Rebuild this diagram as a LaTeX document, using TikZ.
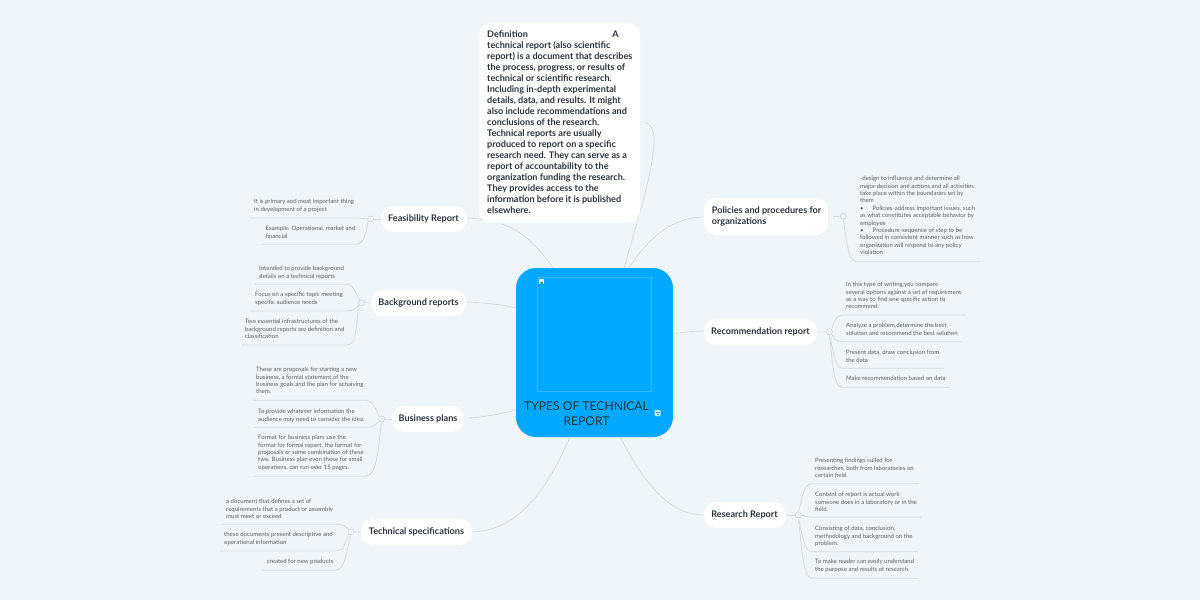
\documentclass[tikz,border=0pt]{standalone}
\usepackage{fontspec}
\setmainfont{Lato}
\definecolor{bgc}{HTML}{F0F5F9}
\definecolor{rootc}{HTML}{00A9FF}
\definecolor{framec}{HTML}{33BAFF}
\definecolor{linec}{HTML}{D6DDE1}
\definecolor{darkt}{HTML}{2C343C}
\definecolor{smallt}{HTML}{585F65}
\tikzset{
  mainbox/.style={fill=white,rounded corners=12pt,inner sep=0pt,text=darkt,font=\fontsize{9.1}{11}\selectfont\bfseries},
  maintext/.style={inner sep=0pt,text=darkt,font=\fontsize{9.1}{11}\selectfont\bfseries,align=left},
  leaf/.style={inner sep=0pt,anchor=north west,align=left,text=smallt,font=\fontsize{6.03}{7.4}\selectfont},
  conn/.style={draw=linec,line width=0.7pt},
  under/.style={draw=linec,line width=0.8pt},
  knob/.style={circle,draw=linec,fill=bgc,line width=0.8pt,minimum size=6pt,inner sep=0pt},
}
\newcommand{\mainnode}[7]{% name x1 y1 x2 y2 text
  \node[mainbox,minimum width=#4 pt-#2 pt,minimum height=#5 pt-#3 pt] (#1) at ({(#2+#4)/2},{(#3+#5)/2}) {#6};}
\begin{document}
\begin{tikzpicture}[x=1pt,y=-1pt]
\useasboundingbox[fill=bgc] (0,0) rectangle (1200,600);
% coordinates
\coordinate (defE) at (645,122);
\coordinate (defS) at (624,268);
\coordinate (rF) at (553,268);
\coordinate (rB) at (516,308);
\coordinate (rP) at (516,410);
\coordinate (rT) at (570,437);
\coordinate (rO) at (629,268);
\coordinate (rR) at (673,334);
\coordinate (rS) at (620,437);
% root-level connectors
\draw[conn] (defS) .. controls (636,225) and (654,170) .. (654,140) .. controls (654,128) and (650,124) .. (defE);
\draw[conn] (rF) .. controls (530,235) and (510,220) .. (467,218);
\draw[conn] (rB) .. controls (500,304) and (485,303) .. (467,302);
\draw[conn] (rP) .. controls (500,414) and (485,417) .. (469,418);
\draw[conn] (rT) .. controls (545,495) and (515,531) .. (472,532);
\draw[conn] (rO) .. controls (650,235) and (675,217) .. (704,217);
\draw[conn] (rR) .. controls (685,332) and (695,331) .. (704,331);
\draw[conn] (rS) .. controls (645,485) and (670,515) .. (704,515);
% definition box
\node[fill=white,rounded corners=12pt,minimum width=161pt,minimum height=200pt,inner sep=0pt] (defbox) at (559.5,123) {};
\node[maintext,anchor=north west] (deftext) at (487,30.5) {Definition\hspace{84.5pt}A\\technical report (also scientific\\report) is a document that describes\\the process, progress, or results of\\technical or scientific research.\\Including in-depth experimental\\details, data, and results. It might\\also include recommendations and\\conclusions of the research.\\Technical reports are usually\\produced to report on a specific\\research need. They can serve as a\\report of accountability to the\\organization funding the research.\\They provides access to the\\information before it is published\\elsewhere.};
% root
\node[fill=rootc,rounded corners=20pt,minimum width=157pt,minimum height=169pt,inner sep=0pt] (root) at (594.5,352.5) {};
\node[draw=framec,line width=0.5pt,minimum width=114pt,minimum height=114pt,inner sep=0pt] (frame) at (594.5,334) {};
\node[fill=white,minimum size=5pt,inner sep=0pt] (brk) at (541.5,281) {};
\fill[green!55!black] (539.5,283.5) -- (541.5,281.5) -- (543.5,283.5) -- cycle;
\node[fill=white,opacity=0.8,rounded corners=1pt,minimum width=6pt,minimum height=6pt,inner sep=0pt] (icon) at (657.5,413) {};
\draw[rootc,line width=0.6pt] (655.5,412.5) -- (659.5,412.5) (656.5,414.5) -- (658.5,414.5);
\node[inner sep=0pt,align=center,text=darkt,font=\fontsize{12.1}{15}\selectfont] (roottext) at (586.5,414) {TYPES OF TECHNICAL\\REPORT};
% main nodes
\mainnode{nF}{381}{206}{467}{232}{}{}
\node[maintext] (tF) at (423.5,219) {Feasibility Report};
\mainnode{nB}{371}{290}{466}{316}{}{}
\node[maintext] (tB) at (418.5,303) {Background reports};
\mainnode{nP}{392}{406}{464}{432}{}{}
\node[maintext] (tP) at (428,419) {Business plans};
\mainnode{nT}{361}{519}{472}{545}{}{}
\node[maintext] (tT) at (416.5,532) {Technical specifications};
\mainnode{nO}{704}{198}{828}{235}{}{}
\node[maintext,anchor=west] (tO) at (711.7,216.3) {Policies and procedures for\\organizations};
\mainnode{nR}{704}{319}{817}{345}{}{}
\node[maintext] (tR) at (760.5,332) {Recommendation report};
\mainnode{nS}{704}{502}{786}{528}{}{}
\node[maintext] (tS) at (744.5,515) {Research Report};
% knobs
\node[knob] (kF) at (370.7,219) {};
\node[knob] (kB) at (361.7,302.7) {};
\node[knob] (kP) at (381.7,419) {};
\node[knob] (kT) at (351,531.7) {};
\node[knob] (kO) at (843.3,216.3) {};
\node[knob] (kR) at (829.3,331.7) {};
\node[knob] (kS) at (798.3,515) {};
\draw[conn] (nF.west) -- (kF);
\draw[conn] (nB.west) -- (kB);
\draw[conn] (nP.west) -- (kP);
\draw[conn] (nT.west) -- (kT);
\draw[conn] (nO.east) ++(5,0) -- (kO);
\draw[conn] (nR.east) -- (kR);
\draw[conn] (nS.east) -- (kS);
% underline ends
\foreach \n/\x/\y in {F1/250/218,F2/262/244.3,B1/255/284.3,B2/251/311,B3/241/345,P1/253/400.3,P2/254/427.3,P3/254/476.3,T1/222/524.3,T2/220/551,T3/262/570.3,O1/980/261.7,R1/966/315,R2/962/341.7,R3/944/368.3,R4/950/387.3,S1/919/483.7,S2/921/517.3,S3/918/551.7,S4/918/578.3}
  \coordinate (e\n) at (\x,\y);
% left side underlines
\draw[under] (eF1) -- (357,218) -- (kF.west);
\draw[under] (eF2) -- (356,244.3) .. controls (364,244.3) and (366,232) .. (kF.south west);
\draw[under] (eB1) -- (347,284.3) .. controls (353,284.3) and (356,293) .. (kB.north west);
\draw[under] (eB2) -- (347,311) .. controls (353,311) and (356,308) .. (kB.south west);
\draw[under] (eB3) -- (347,345) .. controls (358,345) and (356,318) .. (kB.south west);
\draw[under] (eP1) -- (367,400.3) .. controls (373,400.3) and (376,410) .. (kP.north west);
\draw[under] (eP2) -- (367,427.3) .. controls (373,427.3) and (376,424) .. (kP.south west);
\draw[under] (eP3) -- (365,476.3) .. controls (378,476.3) and (378,445) .. (kP.south);
\draw[under] (eT1) -- (337,524.3) .. controls (343,524.3) and (346,527) .. (kT.north west);
\draw[under] (eT2) -- (337,551) .. controls (343,551) and (346,542) .. (kT.south west);
\draw[under] (eT3) -- (336,570.3) .. controls (345,570.3) and (347,548) .. (kT.south);
% right side underlines
\draw[under] (eO1) -- (856,261.7) .. controls (848,261.7) and (846,235) .. (kO.south);
\draw[under] (eR1) -- (843,315) .. controls (836,315) and (833,323) .. (kR.north east);
\draw[under] (eR2) -- (843,341.7) .. controls (836,341.7) and (833,338) .. (kR.south east);
\draw[under] (eR3) -- (842,368.3) .. controls (834,368.3) and (833,345) .. (kR.south);
\draw[under] (eR4) -- (842,387.3) .. controls (832,387.3) and (832,350) .. (kR.south);
\draw[under] (eS1) -- (812,483.7) .. controls (803,483.7) and (802,500) .. (kS.north);
\draw[under] (eS2) -- (818,517.3) .. controls (810,517.3) and (806,517) .. (kS.east);
\draw[under] (eS3) -- (812,551.7) .. controls (803,551.7) and (802,530) .. (kS.south);
\draw[under] (eS4) -- (812,578.3) .. controls (802,578.3) and (801,535) .. (kS.south);
% leaf texts
\node[leaf] (lF1) at (254,199) {It is primary and most important thing\\in development of a project};
\node[leaf] (lF2) at (265.3,226) {Example: Operational, market and\\financial};
\node[leaf] (lB1) at (259,266) {Intended to provide background\\details on a technical reports};
\node[leaf] (lB2) at (255,292) {Focus on a specific topic meeting\\specific audience needs};
\node[leaf] (lB3) at (244.7,319) {Two essential infrastructures of the\\background reports are definition and\\classification};
\node[leaf] (lP1) at (256,367) {These are proposals for starting a new\\business, a formal statement of the\\business goals and the plan for achaiving\\them.};
\node[leaf] (lP2) at (258,409) {To provide whatever information the\\audience may need to consider the idea.};
\node[leaf] (lP3) at (258,435) {Format for business plan: use the\\format for formal report,  the format for\\proposals or some combination of these\\two. Business plan even those for small\\operations, can run over 15 pages.};
\node[leaf] (lT1) at (226,499) {a document that defines a set of\\requirements that a product or assembly\\must meet or exceed};
\node[leaf] (lT2) at (224,532) {these documents present descriptive and\\operational information};
\node[leaf] (lT3) at (266.7,559) {created for new products};
\node[leaf] (lO1) at (860,176) {-design to influence and determine all\\major decision and actions,and all activities\\take place within the boundaries set by\\them\\•\hspace{9pt}Policies-address important issues, such\\as what constitutes acceptable behavior by\\employee\\•\hspace{9pt}Procedure-sequence of step to be\\followed in consistent manner such as how\\organization will respond to any policy\\violation};
\node[leaf] (lR1) at (846,282) {In this type of writing,you compare\\several options against a set of requirement\\as a way to find one specific action to\\recommend};
\node[leaf] (lR2) at (846,323) {Analyze a problem,determine the best\\solution and recommend the best solution};
\node[leaf] (lR3) at (846,350) {Present data, draw conclusion from\\the data};
\node[leaf] (lR4) at (846,376) {Make recommendation based on data};
\node[leaf] (lS1) at (815,458) {Presenting findings culled for\\researches, both from laboratories on\\certain field.};
\node[leaf] (lS2) at (815,492) {Content of report is actual work\\someone does in a laboratory or in the\\field.};
\node[leaf] (lS3) at (815,526) {Consisting of data, conclusion,\\methodology and background on the\\problem.};
\node[leaf] (lS4) at (815,559) {To make reader can easily understand\\the purpose and results of research.};
\end{tikzpicture}
\end{document}
